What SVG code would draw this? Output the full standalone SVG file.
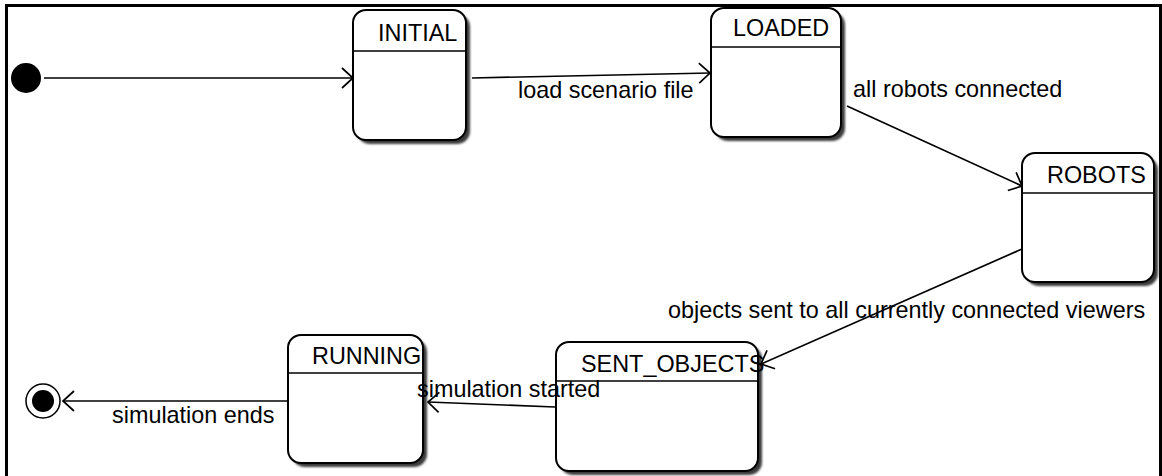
<svg xmlns="http://www.w3.org/2000/svg" width="1162" height="476" viewBox="0 0 1162 476">
  <style>
    .frame { fill: none; stroke: #000; stroke-width: 3; }
    .state { fill: #fff; stroke: #000; stroke-width: 2; }
    .shadow { fill: #3a3a3a; filter: url(#soft); }
    .divider { stroke: #000; stroke-width: 1.5; }
    .name { font-family: "Liberation Sans", Arial, sans-serif; font-size: 23.4px; fill: #000; }
    .label { font-family: "Liberation Sans", Arial, sans-serif; font-size: 23.4px; fill: #000; }
    .edge { fill: none; stroke: #000; stroke-width: 1.7; marker-end: url(#open); }
  </style>
  <defs>
    <filter id="soft" x="-10%" y="-10%" width="130%" height="130%">
      <feGaussianBlur stdDeviation="1.2"/>
    </filter>
    <marker id="open" markerUnits="userSpaceOnUse" markerWidth="24" markerHeight="24" viewBox="-13 -12 15 24" refX="0" refY="0" orient="auto">
      <path d="M-11,-10 L0,0 L-11,10" fill="none" stroke="#000" stroke-width="1.7"/>
    </marker>
  </defs>

  <rect width="1162" height="476" fill="#fff"/>
  <rect class="frame" x="6.5" y="5.5" width="1154" height="500"/>

  <!-- pseudo-states -->
  <g id="start">
    <circle cx="26" cy="78" r="15" fill="#000"/>
  </g>
  <g id="end">
    <circle cx="43" cy="401" r="17" fill="#fff" stroke="#000" stroke-width="1.5"/>
    <circle cx="43" cy="401" r="11" fill="#000"/>
  </g>

  <!-- states -->
  <g id="initial">
    <rect class="shadow" x="357" y="14" width="113" height="130" rx="13"/>
    <rect class="state" x="353" y="10" width="113" height="130" rx="13"/>
    <line class="divider" x1="353" y1="51" x2="466" y2="51"/>
    <text class="name" x="378" y="41">INITIAL</text>
  </g>

  <g id="loaded">
    <rect class="shadow" x="715" y="12" width="130" height="129" rx="13"/>
    <rect class="state" x="711" y="8" width="130" height="129" rx="13"/>
    <line class="divider" x1="711" y1="47" x2="841" y2="47"/>
    <text class="name" x="733" y="36">LOADED</text>
  </g>

  <g id="robots">
    <rect class="shadow" x="1026" y="157" width="132" height="129" rx="13"/>
    <rect class="state" x="1022" y="153" width="132" height="129" rx="13"/>
    <line class="divider" x1="1022" y1="193" x2="1154" y2="193"/>
    <text class="name" x="1047" y="183">ROBOTS</text>
  </g>

  <g id="sent_objects">
    <rect class="shadow" x="560" y="346" width="202" height="129" rx="13"/>
    <rect class="state" x="556" y="342" width="202" height="129" rx="13"/>
    <line class="divider" x1="556" y1="381" x2="758" y2="381"/>
    <text class="name" x="581" y="372">SENT_OBJECTS</text>
  </g>

  <g id="running">
    <rect class="shadow" x="292" y="339" width="135" height="128" rx="13"/>
    <rect class="state" x="288" y="335" width="135" height="128" rx="13"/>
    <line class="divider" x1="288" y1="373" x2="423" y2="373"/>
    <text class="name" x="312" y="364">RUNNING</text>
  </g>

  <!-- transitions -->
  <g id="transitions">
    <line class="edge" x1="44" y1="78" x2="353" y2="78"/>
    <line class="edge" x1="472" y1="78" x2="710" y2="73"/>
    <line class="edge" x1="847" y1="106" x2="1022" y2="186"/>
    <line class="edge" x1="1022" y1="249" x2="761" y2="364"/>
    <line class="edge" x1="555" y1="407" x2="428" y2="402"/>
    <line class="edge" x1="287" y1="401" x2="63" y2="401"/>

    <text class="label" x="518" y="98">load scenario file</text>
    <text class="label" x="853" y="97">all robots connected</text>
    <text class="label" x="668" y="318">objects sent to all currently connected viewers</text>
    <text class="label" x="417" y="397">simulation started</text>
    <text class="label" x="112" y="423">simulation ends</text>
  </g>
</svg>
